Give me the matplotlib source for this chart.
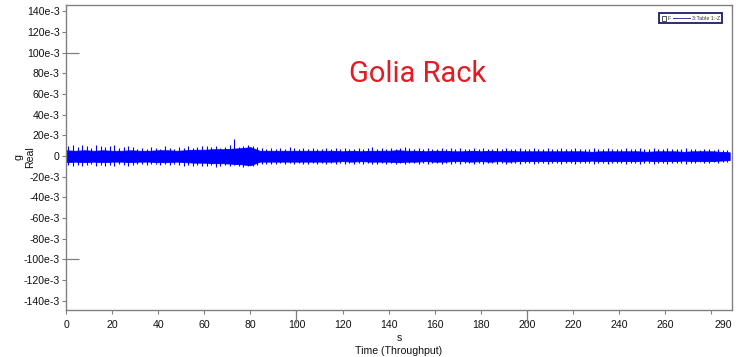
import numpy as np
import matplotlib
matplotlib.use("Agg")
import matplotlib.pyplot as plt
from matplotlib.patches import Rectangle
from matplotlib.lines import Line2D

# ---------------- data (values in 1e-3 g) ----------------
env_t = [0, 4, 8, 12, 16, 20, 24, 28, 32, 36, 40, 44, 48, 52, 56, 60, 64, 68, 72, 76,
         80, 84, 88, 92, 96, 100, 104, 108, 112, 116, 120, 124, 128, 132, 136, 140, 144,
         148, 152, 156, 160, 164, 168, 172, 176, 180, 184, 188, 192, 196, 200, 204, 208,
         212, 216, 220, 224, 228, 232, 236, 240, 244, 248, 252, 256, 260, 264, 268, 272,
         276, 280, 284, 288]
env_hi = [5.5, 5, 5.5, 5, 5.5, 5, 5, 5.5, 5, 5, 5.5, 5.5, 5, 5.5, 6, 6, 6.5, 6.5, 7, 7.5,
          8.5, 5, 5, 5, 5, 5, 5, 5, 5, 5, 4.5, 5, 4.5, 5, 5, 5, 5.5,
          5, 5, 4.5, 5, 5, 4.5, 4.5, 5, 4.5, 5, 4.5, 5, 4.5, 4.5, 4.5, 4.5,
          4.5, 4.5, 4.5, 4.5, 4, 4.5, 4.5, 4.5, 4.5, 4.5, 4, 4.5, 4.5, 4.5, 4, 4.5,
          4.5, 4.5, 4, 3.5]
env_lo = [-6, -5.5, -6, -5.5, -6, -5.5, -5.5, -6, -5.5, -5.5, -6, -6, -5.5, -6, -6.5, -6.5, -7, -7, -7.5, -8,
          -9, -5.5, -5.5, -5.5, -5.5, -5.5, -5.5, -5.5, -5.5, -5.5, -5, -5.5, -5, -5.5, -5.5, -5.5, -6,
          -5.5, -5.5, -5, -5.5, -5.5, -5, -5, -5.5, -5, -5.5, -5, -5.5, -5, -5, -5, -5,
          -5, -5, -5, -5, -4.5, -5, -5, -5, -5, -5, -4.5, -5, -5, -5, -4.5, -5,
          -5, -5, -4.5, -4]

spike_t = [1, 3, 5, 7, 9, 11, 13, 15, 17, 19, 21, 23, 25, 27, 29,
           31, 33, 35, 37, 39, 41, 43, 45, 47, 49, 51, 53, 55, 57, 59,
           61, 63, 65, 67, 69, 71, 73, 75, 77, 79, 81, 83, 85, 87, 89,
           91, 93, 95, 97, 99, 101, 103, 105, 107, 109, 111, 113, 115, 117, 119,
           121, 123, 125, 127, 129, 131, 133, 135, 137, 139, 141, 143, 145, 147, 149,
           151, 153, 155, 157, 159, 161, 163, 165, 167, 169, 171, 173, 175, 177, 179,
           181, 183, 185, 187, 189, 191, 193, 195, 197, 199, 201, 203, 205, 207, 209,
           211, 213, 215, 217, 219, 221, 223, 225, 227, 229, 231, 233, 235, 237, 239,
           241, 243, 245, 247, 249, 251, 253, 255, 257, 259, 261, 263, 265, 267, 269,
           271, 273, 275, 277, 279, 281, 283, 285, 287]
spike_hi = [10, 11, 9, 11, 10, 8, 11, 10, 9, 10, 11, 8, 9, 10, 9,
            7, 8, 7, 9, 8, 7, 10, 8, 7, 9, 8, 10, 8, 9, 10,
            10, 9, 10, 8, 9, 11, 16, 9, 10, 11, 10, 9, 8, 7, 8,
            7, 8, 7, 9, 8, 7, 8, 7, 8, 7, 7, 8, 7, 8, 7,
            8, 7, 7, 8, 7, 8, 9, 7, 8, 7, 8, 7, 8, 9, 8,
            7, 8, 7, 8, 7, 7, 8, 7, 8, 7, 8, 7, 7, 8, 7,
            8, 7, 7, 8, 7, 8, 7, 7, 8, 7, 7, 8, 7, 7, 8,
            7, 7, 8, 7, 7, 8, 7, 7, 7, 8, 7, 7, 8, 7, 7,
            7, 8, 7, 7, 8, 7, 7, 8, 7, 7, 8, 7, 7, 7, 8,
            7, 7, 6, 7, 7, 6, 7, 6, 6]
spike_lo = [-9, -10, -9, -10, -9, -8, -10, -9, -10, -9, -10, -8, -9, -10, -9,
            -8, -8, -9, -8, -8, -9, -8, -9, -8, -9, -10, -9, -10, -9, -10,
            -10, -9, -11, -10, -9, -10, -9, -10, -11, -10, -10, -9, -8, -8, -8,
            -8, -7, -8, -7, -8, -7, -8, -8, -7, -8, -7, -8, -7, -8, -7,
            -8, -7, -8, -7, -8, -7, -8, -8, -7, -8, -7, -8, -7, -8, -7,
            -7, -8, -7, -8, -7, -7, -8, -7, -8, -7, -8, -7, -7, -8, -7,
            -8, -7, -7, -8, -7, -8, -7, -7, -8, -7, -7, -8, -7, -7, -8,
            -7, -7, -8, -7, -7, -8, -7, -7, -7, -8, -7, -7, -8, -7, -7,
            -7, -8, -7, -7, -8, -7, -7, -8, -7, -7, -8, -7, -7, -7, -8,
            -7, -7, -6, -7, -7, -6, -7, -6, -6]

ytick_vals = [-140, -120, -100, -80, -60, -40, -20, 0, 20, 40, 60, 80, 100, 120, 140]
ytick_labels = ["-140e-3", "-120e-3", "-100e-3", "-80e-3", "-60e-3", "-40e-3", "-20e-3", "0",
                "20e-3", "40e-3", "60e-3", "80e-3", "100e-3", "120e-3", "140e-3"]
xtick_vals = [0, 20, 40, 60, 80, 100, 120, 140, 160, 180, 200, 220, 240, 260, 280]
xtick_labels = ["0", "20", "40", "60", "80", "100", "120", "140", "160", "180", "200",
                "220", "240", "260", ""]

# ---------------- figure ----------------
plt.rcParams['font.family'] = ['Liberation Sans', 'DejaVu Sans']
fig = plt.figure(figsize=(7.5, 3.57), dpi=100)
ax = fig.add_axes([66/750, 1 - 310/357, (732-66)/750, (310-5)/357])

blue = '#0000ff'
s = 1e-3
ax.fill_between(env_t, np.array(env_lo) * s, np.array(env_hi) * s, color=blue, lw=0.6)
ax.vlines(spike_t, np.array(spike_lo) * s, np.array(spike_hi) * s, color=blue, lw=0.8)

ax.set_xlim(0, 289)
ax.set_ylim(-0.149, 0.146)

gray = '#808080'
for sp in ax.spines.values():
    sp.set_color(gray)
    sp.set_linewidth(1.0)

fs = 7.6
ax.set_yticks(np.array(ytick_vals) * s)
ax.set_yticklabels(ytick_labels)
ax.set_xticks(xtick_vals)
ax.set_xticklabels(xtick_labels)
ax.tick_params(axis='both', which='major', direction='out', length=3, width=0.8,
               color=gray, labelsize=fs, labelcolor='#111111', pad=1.5)
ax.tick_params(axis='x', which='major', pad=4)

# long ticks
ax.xaxis.remove_overlapping_locs = False
ax.yaxis.remove_overlapping_locs = False
ax.set_xticks([100, 200], minor=True)
ax.set_yticks([-0.1, 0.1], minor=True)
ax.tick_params(axis='x', which='minor', direction='out', length=9, width=0.9, color=gray)
ax.tick_params(axis='y', which='minor', direction='in', length=9, width=0.9, color=gray)

ax.annotate("290", xy=(285, 0), xycoords=('data', 'axes fraction'),
            xytext=(0, -7), textcoords='offset points', ha='center', va='top',
            fontsize=fs, color='#111111')

# axis labels
fig.text(399/750, 1 - 338/357, "s", ha='center', va='center', fontsize=fs, color='#111111')
fig.text(399/750, 1 - 351/357, "Time (Throughput)", ha='center', va='center',
         fontsize=fs, color='#111111')
fig.text(19/750, 1 - 157/357, "g", rotation=90, ha='center', va='center',
         fontsize=fs, color='#111111')
fig.text(30/750, 1 - 157/357, "Real", rotation=90, ha='center', va='center',
         fontsize=fs, color='#111111')

# title
fig.text(418/750, 1 - 74/357, "Golia Rack", ha='center', va='center',
         fontsize=21, color='#e31b23', family=['Roboto', 'DejaVu Sans'])

# legend box
navy = '#1c1c6a'
fig.add_artist(Rectangle((659/750, 1 - 23/357), 63/750, 10/357, transform=fig.transFigure,
                         facecolor='white', edgecolor=navy, lw=1.3))
fig.add_artist(Rectangle((662/750, 1 - 20.5/357), 4/750, 4.5/357, transform=fig.transFigure,
                         facecolor='white', edgecolor='#333333', lw=0.6))
fig.text(668/750, 1 - 18/357, "F", fontsize=3.8, ha='left', va='center', color='#333333')
fig.add_artist(Line2D([673/750, 690/750], [1 - 18/357, 1 - 18/357], transform=fig.transFigure,
                      color='#3a3a9a', lw=0.7))
fig.text(692/750, 1 - 18/357, "3:Table 1:-Z", fontsize=3.8, ha='left', va='center',
         color='#333333')

fig.savefig("out.png", dpi=100)
